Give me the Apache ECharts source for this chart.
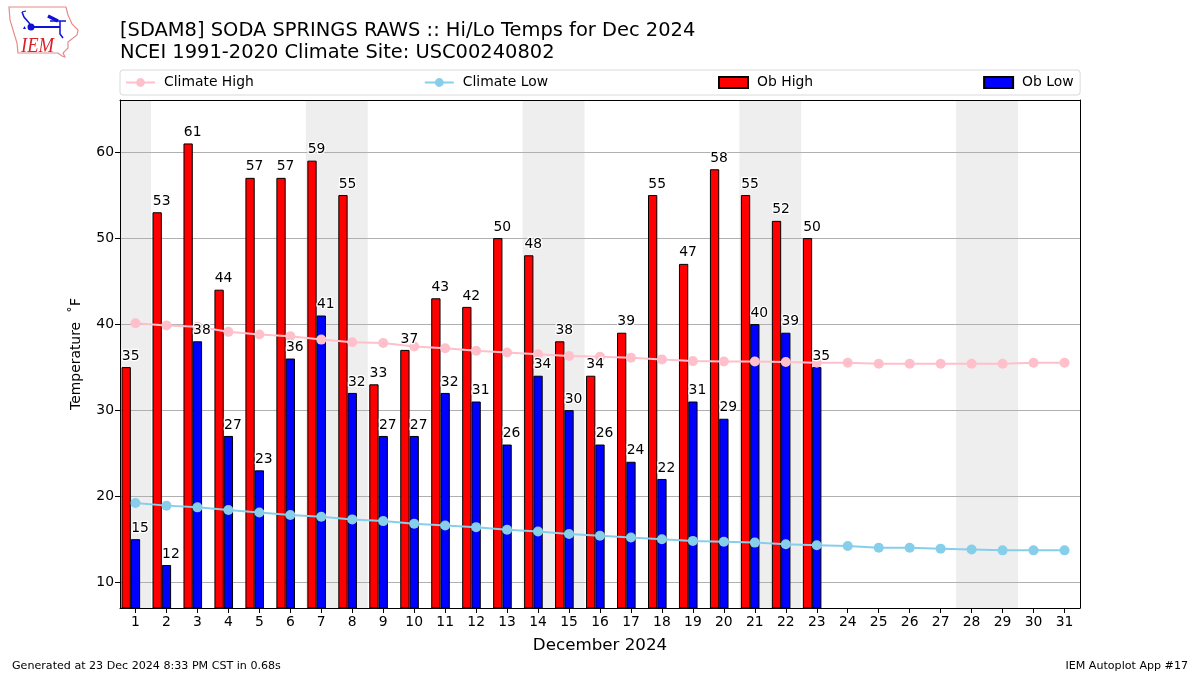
<!DOCTYPE html>
<html><head><meta charset="utf-8">
<style>html,body{margin:0;padding:0;background:#fff}#c{width:1200px;height:675px}</style>
<script src="https://cdn.jsdelivr.net/npm/echarts@6/dist/echarts.min.js"></script>
</head><body><div id="c"></div>
<script>
const days = ['1','2','3','4','5','6','7','8','9','10','11','12','13','14','15','16','17','18','19','20','21','22','23','24','25','26','27','28','29','30','31'];
const obHigh = [35,53,61,44,57,57,59,55,33,37,43,42,50,48,38,34,39,55,47,58,55,52,50];
const obLow = [15,12,38,27,23,36,41,32,27,27,32,31,26,34,30,26,24,22,31,29,40,39,35];
const climateHigh = [40.1,39.85,39.7,39.1,38.8,38.6,38.2,37.9,37.8,37.4,37.2,36.9,36.7,36.5,36.3,36.2,36.1,35.9,35.7,35.65,35.65,35.6,35.5,35.5,35.4,35.4,35.4,35.4,35.4,35.5,35.5];
const climateLow = [19.2,18.9,18.7,18.4,18.1,17.8,17.6,17.3,17.1,16.8,16.6,16.4,16.1,15.9,15.6,15.4,15.2,15.0,14.8,14.7,14.6,14.4,14.3,14.2,14.0,14.0,13.9,13.8,13.7,13.7,13.7];
const yTicks = [10,20,30,40,50,60];
const weekendBands = [[0.5,1.5],[6.5,8.5],[13.5,15.5],[20.5,22.5],[27.5,29.5]];
const font = 'DejaVu Sans';

const barLabel = {
  show:true, position:'top', distance:4, offset:[4.5,0], color:'#000',
  fontFamily:font, fontSize:13.9, textBorderColor:'#fff', textBorderWidth:2.5
};
const noFill = {color:'rgba(0,0,0,0)',borderWidth:0};
const blue = '#1010d8';
const chart = echarts.init(document.getElementById('c'), null, {renderer:'canvas'});
chart.setOption({
  animation:false,
  backgroundColor:'#fff',
  title:[
    {text:'[SDAM8] SODA SPRINGS RAWS :: Hi/Lo Temps for Dec 2024\nNCEI 1991-2020 Climate Site: USC00240802', left:120, top:20, padding:0,
     textStyle:{fontFamily:font,fontSize:19.45,fontWeight:'normal',color:'#000',lineHeight:22}},
    {text:'Generated at 23 Dec 2024 8:33 PM CST in 0.68s', left:12, top:661, textStyle:{fontFamily:font,fontSize:11.1,fontWeight:'normal',color:'#000'}, padding:0},
    {text:'IEM Autoplot App #17', right:12, top:661, textStyle:{fontFamily:font,fontSize:11.1,fontWeight:'normal',color:'#000'}, padding:0}
  ],
  legend:{
    data:[{name:'Climate High'},{name:'Climate Low'},{name:'Ob High',icon:'rect'},{name:'Ob Low',icon:'rect'}],
    left:120, top:70, orient:'horizontal',
    padding:[5.5,6.5,5.5,5], itemGap:170, itemWidth:29, itemHeight:11,
    borderColor:'#d9d9d9', borderWidth:1, borderRadius:3,
    textStyle:{fontFamily:font,fontSize:13.9,color:'#000',padding:[0,0,0,4]}
  },
  grid:{left:120,top:100,width:960,height:508,show:false,containLabel:false},
  xAxis:[
    {type:'category',data:days,boundaryGap:true,z:6,
     axisLine:{show:true,lineStyle:{color:'#000',width:1}},
     axisTick:{show:true,alignWithLabel:true,length:5,lineStyle:{color:'#000'}},
     axisLabel:{interval:0,fontFamily:font,fontSize:13.9,color:'#000',margin:7},
     splitLine:{show:false},
     name:'December 2024',nameLocation:'middle',nameGap:29,
     nameTextStyle:{fontFamily:font,fontSize:16.7,color:'#000'}},
    {type:'value',min:0.5,max:31.5,position:'top',z:6,splitLine:{show:false},
     axisLine:{show:true,onZero:false,lineStyle:{color:'#000',width:1}},axisTick:{show:false},axisLabel:{show:false}},
    {type:'category',data:days,show:false}
  ],
  yAxis:[
    {type:'value',min:7,max:66.05,z:2,
     axisLine:{show:true,lineStyle:{color:'#000',width:1}},
     axisTick:{show:true,length:5,lineStyle:{color:'#000'},customValues:yTicks},
     axisLabel:{fontFamily:font,fontSize:13.9,color:'#000',margin:6,padding:[2,0,0,0],customValues:yTicks},
     splitLine:{show:true,lineStyle:{color:'#b0b0b0',width:1}},
     name:'Temperature  ˚F',nameLocation:'middle',nameGap:37,nameRotate:90,
     nameTextStyle:{fontFamily:font,fontSize:13.9,color:'#000'}},
    {type:'value',min:7,max:66.05,position:'right',z:6,splitLine:{show:false},
     axisLine:{show:true,onZero:false,lineStyle:{color:'#000',width:1}},axisTick:{show:false},axisLabel:{show:false}}
  ],
  series:[
    {name:'bands',type:'line',xAxisIndex:1,yAxisIndex:0,data:[],silent:true,z:0,
     markArea:{silent:true,itemStyle:{color:'#eeeeee',opacity:1},
       data:weekendBands.map(b=>[{xAxis:b[0]},{xAxis:b[1]}])}},
    {name:'Ob High',type:'bar',data:obHigh,barWidth:'30%',barGap:0,z:3,
     itemStyle:{color:'#ff0000',borderColor:'#000',borderWidth:1}},
    {name:'Ob Low',type:'bar',data:obLow,barWidth:'30%',barGap:0,z:3,
     itemStyle:{color:'#0000ff',borderColor:'#000',borderWidth:1}},
    {name:'spacer',type:'bar',data:[],barWidth:'30%',barGap:0},
    {name:'Climate High',type:'line',data:climateHigh,z:4,symbol:'circle',symbolSize:10,
     lineStyle:{color:'#ffc0cb',width:2},itemStyle:{color:'#ffc0cb'}},
    {name:'Climate Low',type:'line',data:climateLow,z:4,symbol:'circle',symbolSize:10,
     lineStyle:{color:'#87ceeb',width:2},itemStyle:{color:'#87ceeb'}},
    {name:'Ob High values',type:'bar',xAxisIndex:2,data:obHigh,barWidth:'30%',barGap:0,z:5,silent:true,itemStyle:noFill,label:barLabel},
    {name:'Ob Low values',type:'bar',xAxisIndex:2,data:obLow,barWidth:'30%',barGap:0,z:5,silent:true,itemStyle:noFill,label:barLabel},
    {name:'spacer2',type:'bar',xAxisIndex:2,data:[],barWidth:'30%',barGap:0}
  ],
  graphic:[
    {type:'polygon',shape:{points:[[9,7],[66,7],[68,15],[72,24],[78,30],[77,35],[68,42],[68,48],[63,53],[65,57],[62,56],[58,53],[18,53],[17,43],[10,20]]},
     style:{fill:'#fff',stroke:'#e88a8a',lineWidth:1.2}},
    {type:'polyline',shape:{points:[[31,27],[60,27]]},style:{stroke:blue,lineWidth:2,fill:null}},
    {type:'circle',shape:{cx:31,cy:27,r:3.5},style:{fill:blue}},
    {type:'polyline',shape:{points:[[30,24],[24,17],[22,12]]},style:{stroke:blue,lineWidth:1.5,fill:null}},
    {type:'polyline',shape:{points:[[22,12],[26,11]]},style:{stroke:blue,lineWidth:1.2,fill:null}},
    {type:'polyline',shape:{points:[[48,16],[58,21]]},style:{stroke:blue,lineWidth:3.5,fill:null}},
    {type:'polyline',shape:{points:[[50,21],[66,21]]},style:{stroke:blue,lineWidth:1.5,fill:null}},
    {type:'polyline',shape:{points:[[60,21],[60,34],[63,38]]},style:{stroke:blue,lineWidth:1.5,fill:null}},
    {type:'polygon',shape:{points:[[23,29],[26,29],[24.5,26]]},style:{fill:blue}},
    {type:'text',x:21,y:37,scaleX:0.93,style:{text:'IEM',fill:'#d8222a',font:'italic 20px "Liberation Serif"'}}
  ]
});
</script></body></html>
